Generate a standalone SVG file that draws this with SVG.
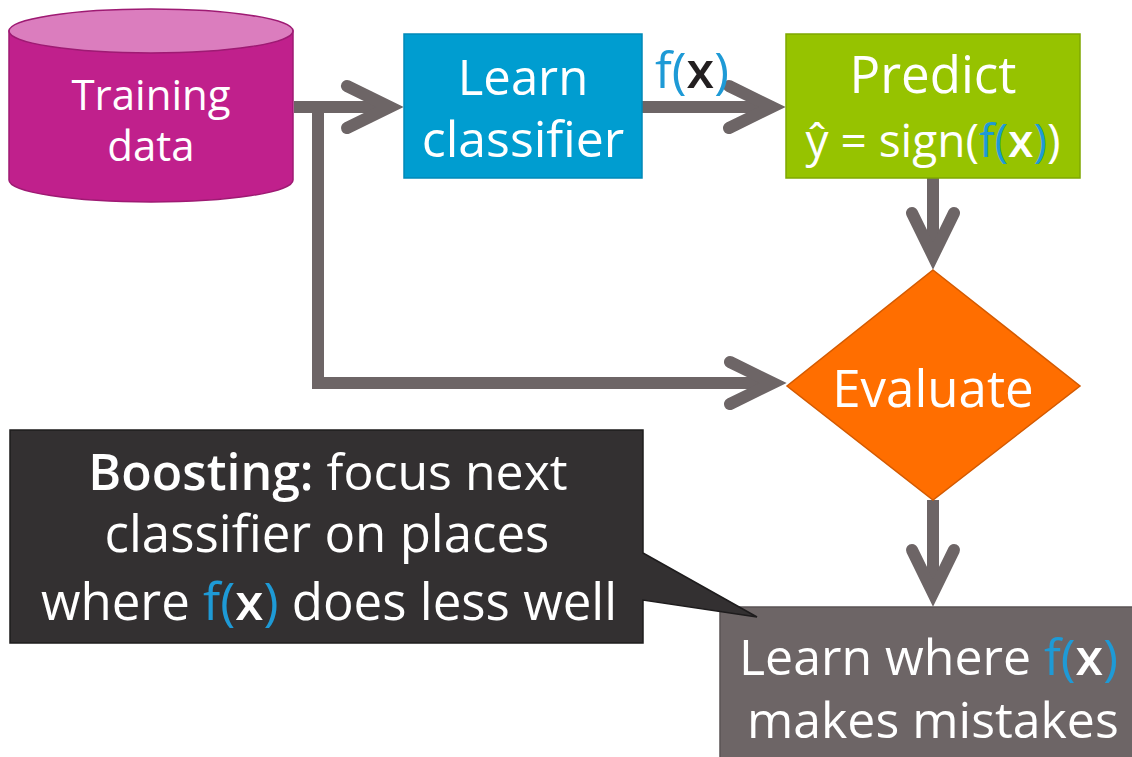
<svg xmlns="http://www.w3.org/2000/svg" width="1132" height="757" viewBox="0 0 1132 757">
<style>
text{font-family:"Open Sans","Liberation Sans",sans-serif;fill:#fff;}
.mid{text-anchor:middle;}
.b{font-weight:600;}
.blue{fill:#1E9AD6;}
.conn{fill:none;stroke:#6D6566;stroke-width:12;}
</style>
<defs>
<marker id="chev" markerUnits="userSpaceOnUse" viewBox="-50 -30 70 60" markerWidth="70" markerHeight="60" refX="0" refY="0" orient="auto" overflow="visible">
<path d="M-43,-21 L0,0 L-43,21" fill="none" stroke="#6D6566" stroke-width="12" stroke-linecap="round" stroke-linejoin="miter"/>
</marker>
</defs>
<rect width="1132" height="757" fill="#fff"/>
<g id="connectors">
<path class="conn" d="M294,107 H390" marker-end="url(#chev)"/>
<path class="conn" d="M318,107 V383 H773" marker-end="url(#chev)"/>
<path class="conn" d="M642,107 H772" marker-end="url(#chev)"/>
<path class="conn" d="M933,178 V256" marker-end="url(#chev)"/>
<path class="conn" d="M933,500 V593" marker-end="url(#chev)"/>
</g>
<g id="training-data">
<path d="M9,31 V180 A142,22 0 0 0 293,180 V31 Z" fill="#C0208C" stroke="#9E1A73" stroke-width="1.5"/>
<ellipse cx="151" cy="31" rx="142" ry="22" fill="#DB7DBE" stroke="#9E1A73" stroke-width="1.5"/>
<text class="mid" x="151" y="110" font-size="42">Training</text>
<text class="mid" x="151" y="161" font-size="42">data</text>
</g>
<g id="learn-classifier">
<rect x="404" y="34" width="238" height="144" fill="#009DD0" stroke="#0089B8" stroke-width="1.5"/>
<text class="mid" x="523" y="95" font-size="49">Learn</text>
<text class="mid" x="523" y="157" font-size="50">classifier</text>
</g>
<g id="fx-label">
<text x="655" y="88" font-size="50"><tspan class="blue">f(</tspan><tspan class="b" style="fill:#231F20">x</tspan><tspan class="blue">)</tspan></text>
</g>
<g id="predict">
<rect x="786" y="34" width="294" height="144" fill="#96C300" stroke="#7FA800" stroke-width="1.5"/>
<text class="mid" x="933" y="93" font-size="51">Predict</text>
<text class="mid" x="933" y="157" font-size="46">ŷ = sign(<tspan class="blue">f(</tspan><tspan class="b">x</tspan><tspan class="blue">)</tspan>)</text>
</g>
<g id="evaluate">
<polygon points="933,270 1080,386 933,500 787,386" fill="#FF6E00" stroke="#D45A00" stroke-width="1.5"/>
<text class="mid" x="933" y="407" font-size="51">Evaluate</text>
</g>
<g id="learn-where">
<rect x="720" y="607" width="420" height="160" fill="#6D6566" stroke="#5A5354" stroke-width="1.5"/>
<text x="739" y="675" font-size="50">Learn where <tspan class="blue">f(</tspan><tspan class="b">x</tspan><tspan class="blue">)</tspan></text>
<text x="747" y="738" font-size="50">makes mistakes</text>
</g>
<g id="callout">
<path d="M10,430 H643 V553 L757,617 L643,600 V643 H10 Z" fill="#333031" stroke="#1E1C1D" stroke-width="1.5"/>
<text class="mid" x="328" y="490" font-size="50"><tspan class="b">Boosting:</tspan> focus next</text>
<text class="mid" x="327" y="552" font-size="51">classifier on places</text>
<text class="mid" x="329" y="620" font-size="51">where <tspan class="blue">f(</tspan><tspan class="b">x</tspan><tspan class="blue">)</tspan> does less well</text>
</g>
</svg>
